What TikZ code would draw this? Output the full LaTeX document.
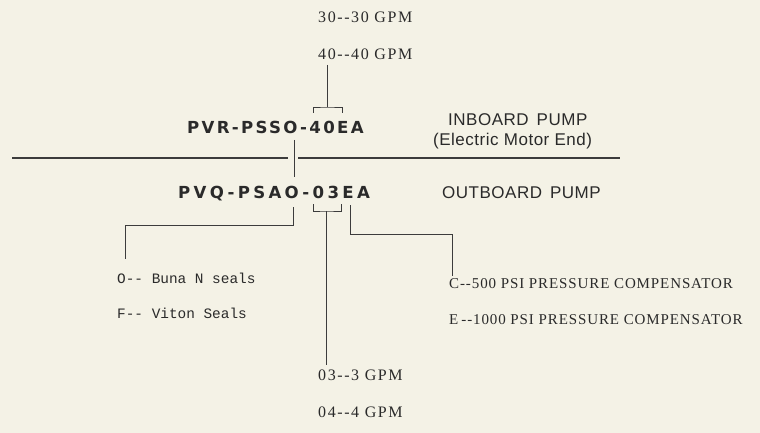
\documentclass[tikz,border=0pt]{standalone}
\usepackage{fontspec}
\setmainfont{Liberation Serif}
\newfontfamily\gpmfont[LetterSpace=10]{Liberation Serif}
\newfontfamily\psifont[LetterSpace=6]{Liberation Serif}
\newfontfamily\partfontA[LetterSpace=14]{DejaVu Sans}
\newfontfamily\partfontB[LetterSpace=20]{DejaVu Sans}
\newfontfamily\pumpfont[LetterSpace=3]{Liberation Sans}
\newfontfamily\sealfont{Liberation Mono}
\definecolor{paper}{HTML}{F4F2E6}
\definecolor{ink}{HTML}{2A2A2A}
\definecolor{wire}{HTML}{3C3C3C}
\tikzset{
  txt/.style={anchor=base west, inner sep=0pt, text=ink},
  gpm/.style={txt, font=\gpmfont\fontsize{16}{19}\selectfont},
  psi/.style={txt, font=\psifont\fontsize{15}{18}\selectfont},
  partA/.style={txt, font=\partfontA\bfseries\fontsize{16.6}{20}\selectfont},
  partB/.style={txt, font=\partfontB\bfseries\fontsize{16.6}{20}\selectfont},
  pump/.style={txt, font=\pumpfont\fontsize{17}{20}\selectfont},
  seal/.style={txt, font=\sealfont\fontsize{14.4}{17}\selectfont},
  wireline/.style={draw=wire, line width=0.9pt},
  rule/.style={draw=wire, line width=1.3pt}
}
\begin{document}
\begin{tikzpicture}[x=1pt,y=-1pt]
\fill[paper] (0,0) rectangle (760,433);
\useasboundingbox (0,0) rectangle (760,433);

% texts
\node[gpm] (g30) at (318,23) {30-{}-30 GPM};
\node[gpm] (g40) at (318,60) {40-{}-40 GPM};
\node[partA] (pvr) at (187,134) {PVR-PSSO-40EA};
\node[partB] (pvq) at (178,198) {PVQ-PSAO-03EA};
\node[pump] (inb) at (448,126) {INBOARD\hspace{8pt}PUMP};
\node[pump] (emo) at (433,146) {(Electric Motor End)};
\node[pump] (outb) at (442,198) {OUTBOARD\hspace{8pt}PUMP};
\node[seal] (buna) at (117,283) {O-{}- Buna N seals};
\node[seal] (viton) at (117,318) {F-{}- Viton Seals};
\node[psi] (c500) at (449,288) {C-{}-500 PSI PRESSURE COMPENSATOR};
\node[psi] (e1000) at (449,324) {E\kern3pt-{}-1000 PSI PRESSURE COMPENSATOR};
\node[gpm] (g03) at (318,380) {03-{}-3 GPM};
\node[gpm] (g04) at (318,417) {04-{}-4 GPM};

% connector points
\coordinate (t0) at (327,65);
\coordinate (t1) at (327,107);
\coordinate (tbl) at (313,113);
\coordinate (tbr) at (342,113);
\coordinate (m0) at (294,140);
\coordinate (m1) at (294,177);
\coordinate (hl0) at (12,158);
\coordinate (hl1) at (288,158);
\coordinate (hr0) at (298,158);
\coordinate (hr1) at (620,158);
\coordinate (s0) at (293,207);
\coordinate (s1) at (293,225);
\coordinate (s2) at (125,225);
\coordinate (s3) at (125,259);
\coordinate (bbl) at (313,204);
\coordinate (bbr) at (341,204);
\coordinate (b1) at (326,211);
\coordinate (b2) at (326,365);
\coordinate (p0) at (350,205);
\coordinate (p1) at (350,234);
\coordinate (p2) at (452,234);
\coordinate (p3) at (452,276);

% connectors
\draw[wireline] (t0) -- (t1);
\draw[wireline] (tbl) |- (t1) -| (tbr);
\draw[wireline] (m0) -- (m1);
\draw[rule] (hl0) -- (hl1);
\draw[rule] (hr0) -- (hr1);
\draw[wireline] (s0) -- (s1) -- (s2) -- (s3);
\draw[wireline] (bbl) |- (b1) -| (bbr);
\draw[wireline] (b1) -- (b2);
\draw[wireline] (p0) -- (p1) -- (p2) -- (p3);
\end{tikzpicture}
\end{document}
